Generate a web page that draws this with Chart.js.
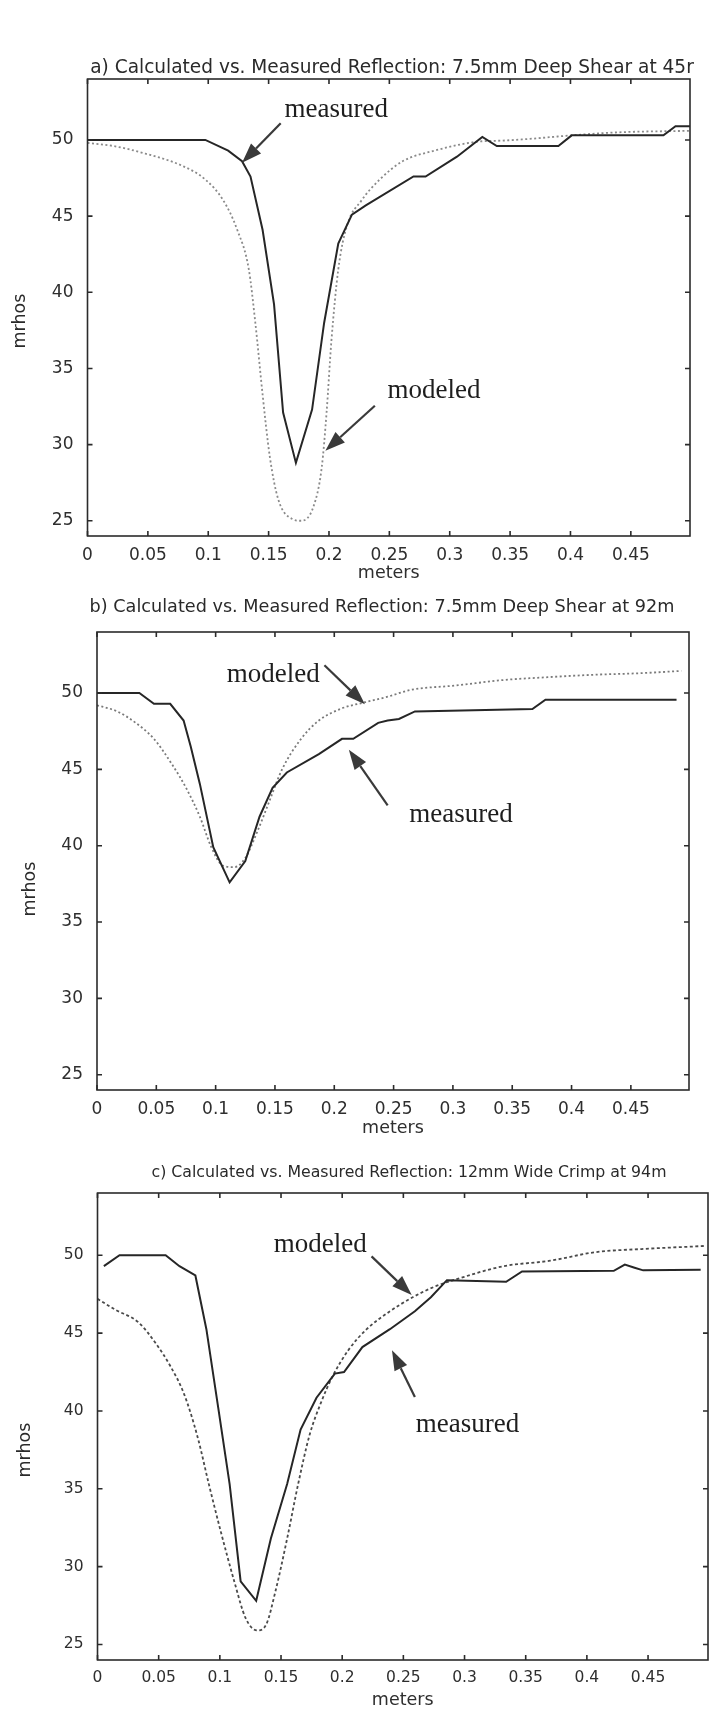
<!DOCTYPE html>
<html>
<head>
<meta charset="utf-8">
<script src="https://cdn.jsdelivr.net/npm/chart.js@4.4.1/dist/chart.umd.min.js"></script>
<style>
	body { margin: 0; background: #fff; }
	.panel { position: absolute; left: 0; }
</style>
</head>
<body>
<div class="panel" style="top:0px"><canvas id="chart-a" width="717" height="590"></canvas></div>
<div class="panel" style="top:590px"><canvas id="chart-b" width="717" height="560"></canvas></div>
<div class="panel" style="top:1150px"><canvas id="chart-c" width="717" height="561"></canvas></div>
<script>
const xTicks = [0, 0.05, 0.1, 0.15, 0.2, 0.25, 0.3, 0.35, 0.4, 0.45];
const yTicks = [25, 30, 35, 40, 45, 50];

// [meters, mhos]
const aMeasured = [[0,50],[0.0976,50],[0.1165,49.3],[0.128,48.6],[0.135,47.6],[0.145,44.1],[0.1545,39.2],[0.162,32.1],[0.1726,28.8],[0.186,32.3],[0.196,38],[0.2077,43.2],[0.219,45.1],[0.2305,45.7],[0.27,47.6],[0.28,47.6],[0.306,48.9],[0.327,50.2],[0.339,49.6],[0.39,49.6],[0.401,50.3],[0.477,50.3],[0.487,50.9],[0.499,50.9]];
const aModeled = [[0,49.8],[0.0215,49.6],[0.048,49.1],[0.0785,48.3],[0.0976,47.4],[0.1127,46.0],[0.124,44.1],[0.1336,41.5],[0.139,38],[0.145,33.3],[0.151,29.2],[0.158,26.4],[0.17,25.1],[0.177,25],[0.187,25.9],[0.194,28.5],[0.198,32.1],[0.202,36.8],[0.2077,41.5],[0.215,44.4],[0.2267,46],[0.242,47.4],[0.261,48.6],[0.2875,49.3],[0.325,49.9],[0.342,49.95],[0.363,50.05],[0.401,50.3],[0.44,50.5],[0.499,50.6]];

const bMeasured = [[0,50],[0.0357,50],[0.048,49.3],[0.0617,49.3],[0.073,48.2],[0.079,46.5],[0.0867,44.05],[0.098,39.9],[0.1118,37.6],[0.125,39],[0.137,41.9],[0.148,43.8],[0.16,44.8],[0.187,46],[0.2065,47],[0.216,47],[0.237,48.05],[0.245,48.2],[0.2545,48.3],[0.268,48.8],[0.367,48.95],[0.378,49.56],[0.4885,49.56]];
const bModeled = [[0,49.2],[0.017,48.8],[0.0326,48.05],[0.048,47],[0.0635,45.3],[0.075,43.8],[0.0867,41.9],[0.0964,39.9],[0.106,38.7],[0.1158,38.6],[0.125,39.2],[0.135,40.9],[0.1447,42.8],[0.156,45],[0.172,47],[0.187,48.2],[0.2065,49],[0.226,49.4],[0.245,49.76],[0.264,50.2],[0.303,50.5],[0.342,50.85],[0.38,51.04],[0.419,51.2],[0.4576,51.3],[0.4925,51.45]];

const cMeasured = [[0.0052,49.3],[0.018,50],[0.0557,50],[0.067,49.3],[0.08,48.7],[0.089,45.25],[0.0987,40.2],[0.108,35.3],[0.117,29.05],[0.1297,27.8],[0.1417,31.8],[0.155,35.3],[0.166,38.8],[0.179,40.85],[0.194,42.4],[0.2015,42.5],[0.2165,44.1],[0.239,45.25],[0.2594,46.4],[0.2725,47.3],[0.2856,48.4],[0.334,48.3],[0.347,48.96],[0.422,49],[0.431,49.4],[0.439,49.2],[0.446,49.03],[0.493,49.07]];
const cModeled = [[0,47.2],[0.0146,46.5],[0.0333,45.7],[0.048,44.3],[0.0594,42.9],[0.0707,41.1],[0.0819,38.3],[0.091,35.3],[0.1006,32.3],[0.1118,29.05],[0.121,26.7],[0.1305,25.9],[0.138,26.3],[0.1454,28.4],[0.155,31.8],[0.164,35.3],[0.1735,38.5],[0.183,40.6],[0.192,42.2],[0.205,43.9],[0.22,45.25],[0.239,46.4],[0.2576,47.3],[0.276,48.0],[0.295,48.5],[0.332,49.3],[0.37,49.65],[0.407,50.2],[0.4445,50.4],[0.497,50.6]];

const titles = [
	"a) Calculated vs. Measured Reflection: 7.5mm Deep Shear at 45r",
	"b) Calculated vs. Measured Reflection: 7.5mm Deep Shear at 92m",
	"c) Calculated vs. Measured Reflection: 12mm Wide Crimp at 94m"
];

// label text, label position (x, baseline y), arrow tail, arrow tip - in data units
const aNotes = [
	{ text: "measured", at: [0.206, 51.5], from: [0.160, 51.09], to: [0.128, 48.5] },
	{ text: "modeled", at: [0.287, 33.03], from: [0.238, 32.55], to: [0.197, 29.6] }
];
const bNotes = [
	{ text: "modeled", at: [0.1486, 50.73], from: [0.1917, 51.82], to: [0.2258, 49.27] },
	{ text: "measured", at: [0.3069, 41.58], from: [0.245, 42.65], to: [0.2123, 46.29] }
];
const cNotes = [
	{ text: "modeled", at: [0.182, 50.23], from: [0.224, 49.93], to: [0.2568, 47.45] },
	{ text: "measured", at: [0.3024, 38.66], from: [0.2594, 40.9], to: [0.2407, 43.9] }
];

const toXY = arr => arr.map(p => ({ x: p[0], y: p[1] }));

const framePlugin = {
	id: "frame",
	afterDatasetsDraw(chart, args, o) {
		const ctx = chart.ctx, a = chart.chartArea,
			x = chart.scales.x, y = chart.scales.y;
		ctx.save();
		ctx.strokeStyle = "#2b2b2b";
		ctx.lineWidth = 1.6;
		ctx.strokeRect(a.left, a.top, a.right - a.left, a.bottom - a.top);
		ctx.beginPath();
		x.ticks.forEach(function (t) {
			const px = x.getPixelForValue(t.value);
			ctx.moveTo(px, a.bottom); ctx.lineTo(px, a.bottom - 5);
			ctx.moveTo(px, a.top); ctx.lineTo(px, a.top + 5);
		});
		y.ticks.forEach(function (t) {
			const py = y.getPixelForValue(t.value);
			ctx.moveTo(a.left, py); ctx.lineTo(a.left + 5, py);
			ctx.moveTo(a.right, py); ctx.lineTo(a.right - 5, py);
		});
		ctx.stroke();

		// title, fitted to the width it has in the scan
		ctx.fillStyle = "#2a2a2a";
		ctx.textAlign = "center";
		ctx.textBaseline = "middle";
		ctx.font = "20px 'DejaVu Sans'";
		const w = ctx.measureText(o.title).width;
		ctx.font = (20 * o.titleWidth / w).toFixed(2) + "px 'DejaVu Sans'";
		ctx.fillText(o.title, o.titleX, o.titleY);

		// y label
		ctx.save();
		ctx.translate(o.yTitleX, o.yTitleY);
		ctx.rotate(-Math.PI / 2);
		ctx.font = "17.5px 'DejaVu Sans'";
		ctx.fillText("mrhos", 0, 0);
		ctx.restore();

		// annotations
		o.notes.forEach(function (n) {
			ctx.fillStyle = "#1e1e1e";
			ctx.font = "27px 'Liberation Serif'";
			ctx.textBaseline = "alphabetic";
			ctx.fillText(n.text, x.getPixelForValue(n.at[0]), y.getPixelForValue(n.at[1]));
			const x1 = x.getPixelForValue(n.from[0]), y1 = y.getPixelForValue(n.from[1]),
				x2 = x.getPixelForValue(n.to[0]), y2 = y.getPixelForValue(n.to[1]);
			const ang = Math.atan2(y2 - y1, x2 - x1), head = 20, half = 7;
			const bx = x2 - head * Math.cos(ang), by = y2 - head * Math.sin(ang);
			ctx.strokeStyle = "#3a3a3a";
			ctx.fillStyle = "#3a3a3a";
			ctx.lineWidth = 2.2;
			ctx.beginPath();
			ctx.moveTo(x1, y1); ctx.lineTo(bx, by);
			ctx.stroke();
			ctx.beginPath();
			ctx.moveTo(x2, y2);
			ctx.lineTo(bx + half * Math.sin(ang), by - half * Math.cos(ang));
			ctx.lineTo(bx - half * Math.sin(ang), by + half * Math.cos(ang));
			ctx.closePath();
			ctx.fill();
		});
		ctx.restore();
	}
};

function makeChart(id, cfg) {
	return new Chart(document.getElementById(id), {
		type: "line",
		data: {
			datasets: [
				{
					label: "measured",
					data: toXY(cfg.measured),
					borderColor: "#262626",
					borderWidth: 2,
					pointRadius: 0,
					tension: 0
				}, {
					label: "modeled",
					data: toXY(cfg.modeled),
					borderColor: cfg.modColor,
					borderWidth: 1.8,
					borderDash: cfg.dash,
					pointRadius: 0,
					cubicInterpolationMode: "monotone"
				}
			]
		},
		options: {
			responsive: false,
			animation: false,
			events: [],
			layout: { padding: { left: 0, right: cfg.padRight, top: cfg.plotTop, bottom: 0 } },
			plugins: {
				legend: { display: false },
				tooltip: { enabled: false },
				frame: {
					title: cfg.title, titleX: cfg.titleX, titleY: cfg.titleY, titleWidth: cfg.titleWidth,
					yTitleX: cfg.yTitleX, yTitleY: cfg.yTitleY, notes: cfg.notes
				}
			},
			scales: {
				x: {
					type: "linear",
					min: 0,
					max: 0.499,
					afterBuildTicks: function (s) { s.ticks = xTicks.map(v => ({ value: v })); },
					afterFit: function (s) { s.height = cfg.xHeight; },
					grid: { display: false },
					border: { display: false },
					ticks: {
						color: "#2e2e2e",
						font: { family: "DejaVu Sans", size: cfg.tickSize },
						padding: 1,
						maxRotation: 0,
						callback: v => String(+v.toFixed(2))
					},
					title: {
						display: true,
						text: "meters",
						color: "#2e2e2e",
						font: { family: "DejaVu Sans", size: 17.5 },
						padding: { top: 0, bottom: cfg.xTitlePad }
					}
				},
				y: {
					type: "linear",
					min: 24,
					max: 54,
					afterBuildTicks: function (s) { s.ticks = yTicks.map(v => ({ value: v })); },
					afterFit: function (s) { s.width = cfg.left; },
					grid: { display: false },
					border: { display: false },
					ticks: {
						color: "#2e2e2e",
						font: { family: "DejaVu Sans", size: cfg.tickSize },
						padding: 6
					}
				}
			}
		},
		plugins: [framePlugin]
	});
}

makeChart("chart-a", {
	measured: aMeasured, modeled: aModeled, notes: aNotes, modColor: "#8a8a8a", dash: [2, 2.5],
	title: titles[0], titleX: 392, titleY: 68, titleWidth: 604,
	left: 87.5, padRight: 27, plotTop: 79, xHeight: 54, xTitlePad: 6.5,
	yTitleX: 20, yTitleY: 321, tickSize: 17
});
makeChart("chart-b", {
	measured: bMeasured, modeled: bModeled, notes: bNotes, modColor: "#7a7a7a", dash: [2, 2.5],
	title: titles[1], titleX: 382, titleY: 17, titleWidth: 585,
	left: 97, padRight: 28, plotTop: 42, xHeight: 60, xTitlePad: 11.5,
	yTitleX: 30, yTitleY: 299, tickSize: 17
});
makeChart("chart-c", {
	measured: cMeasured, modeled: cModeled, notes: cNotes, modColor: "#4a4a4a", dash: [3, 2.5],
	title: titles[2], titleX: 409, titleY: 23, titleWidth: 515,
	left: 97.5, padRight: 9, plotTop: 43, xHeight: 51, xTitlePad: 0,
	yTitleX: 25, yTitleY: 300, tickSize: 15.5
});
</script>
</body>
</html>
